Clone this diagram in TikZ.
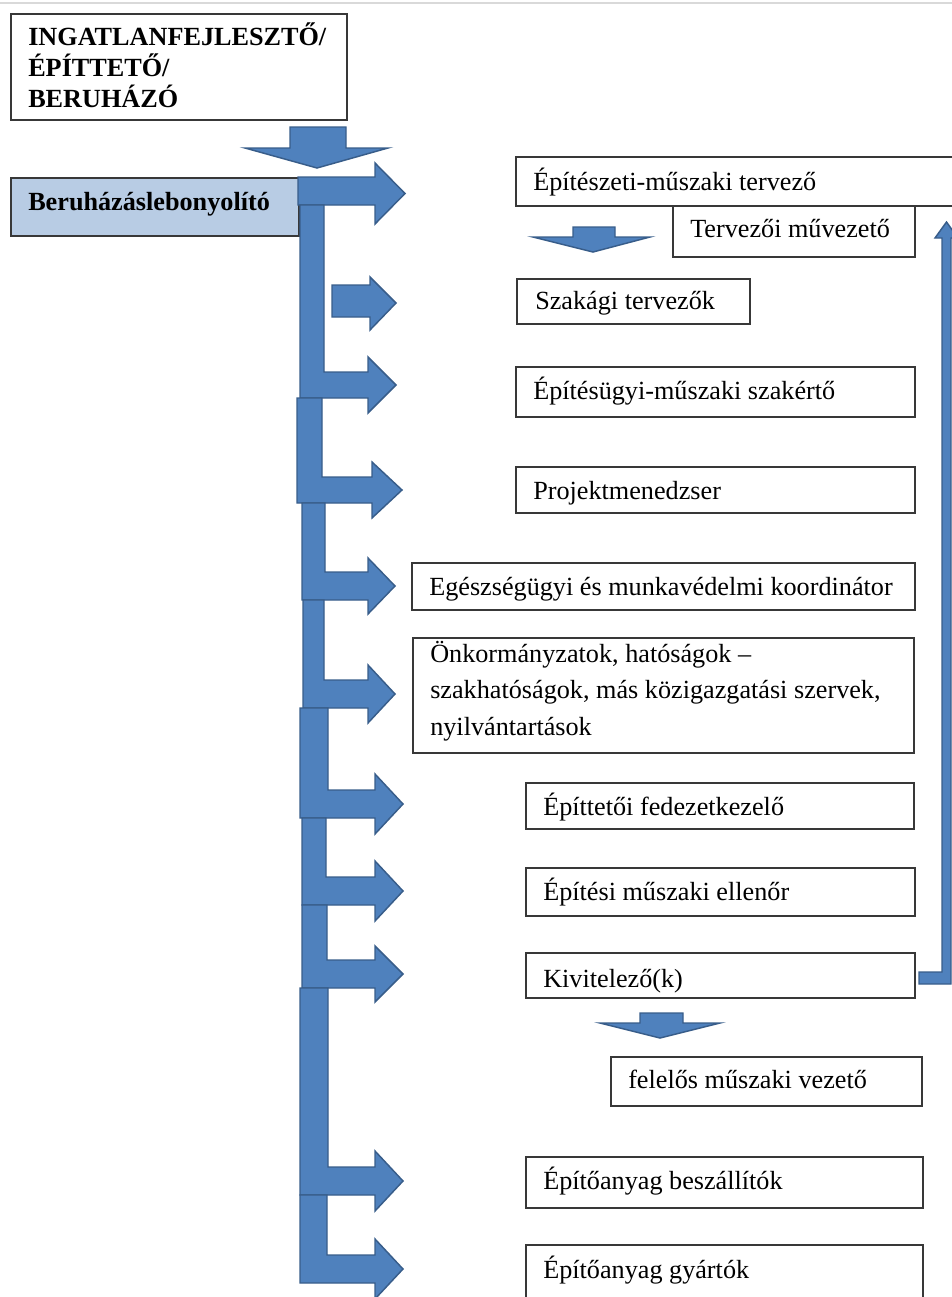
\documentclass[tikz,border=0pt]{standalone}
\usepackage{fontspec}
\setmainfont{Liberation Serif}
\usetikzlibrary{fit}
\definecolor{arrfill}{RGB}{79,129,189}
\definecolor{arrline}{RGB}{56,93,138}
\definecolor{lblue}{RGB}{184,204,228}
\newcommand\bentarr[8]{\draw[blockarr] (#1,#3) -- (#2,#3) -- (#2,{#4-#5}) -- (#6,{#4-#5}) -- (#6,{#4-#7}) -- (#8,#4) -- (#6,{#4+#7}) -- (#6,{#4+#5}) -- (#1,{#4+#5}) -- cycle;}
\tikzset{
  box/.style={draw=black!78, line width=0.9pt, fill=white, inner sep=0pt},
  lbl/.style={inner sep=0pt, anchor=base west, font=\fontsize{19.65pt}{26pt}\selectfont},
  blockarr/.style={fill=arrfill, draw=arrline, line width=1.1pt, line join=miter}
}
\begin{document}
\begin{tikzpicture}[x=0.75pt,y=-0.75pt]
\useasboundingbox (0,0) rectangle (952,1297);
\draw[gray!30, line width=0.8pt] (0,3) -- (952,3);

% boxes
\node[box, fit={(11,14) (347,120)}] (top) {};
\node[box, fill=lblue, fit={(11,178) (299,236)}] (ber) {};
\node[box, fit={(516,157) (962,206)}] (epit) {};
\node[box, fit={(673,206) (915,257)}] (terv) {};
\node[box, fit={(517,279) (750,324)}] (szak) {};
\node[box, fit={(516,367) (915,417)}] (epitugy) {};
\node[box, fit={(516,467) (915,513)}] (proj) {};
\node[box, fit={(412,563) (915,610)}] (egesz) {};
\node[box, fit={(413,638) (914,753)}] (onk) {};
\node[box, fit={(526,783) (914,829)}] (fedezet) {};
\node[box, fit={(526,868) (915,916)}] (ellenor) {};
\node[box, fit={(526,953) (915,998)}] (kiv) {};
\node[box, fit={(611,1057) (922,1106)}] (fel) {};
\node[box, fit={(526,1157) (923,1208)}] (besz) {};
\node[box, fit={(526,1245) (923,1320)}] (gyart) {};

% labels
\node[lbl, font=\fontsize{19.65pt}{23.25pt}\selectfont\bfseries] (topT) at (28,45)
  {\parbox[t]{330pt}{INGATLANFEJLESZTŐ/\\ÉPÍTTETŐ/\\BERUHÁZÓ}};
\node[lbl, font=\fontsize{19.65pt}{26pt}\selectfont\bfseries] (berT) at (28,210) {Beruházáslebonyolító};
\node[lbl] (epitT) at (533,190) {Építészeti-műszaki tervező};
\node[lbl] (tervT) at (690,237) {Tervezői művezető};
\node[lbl] (szakT) at (535,309) {Szakági tervezők};
\node[lbl] (epitugyT) at (533,399) {Építésügyi-műszaki szakértő};
\node[lbl] (projT) at (533,499) {Projektmenedzser};
\node[lbl] (egeszT) at (429,595) {Egészségügyi és munkavédelmi koordinátor};
\node[lbl, font=\fontsize{19.65pt}{27.4pt}\selectfont] (onkT) at (430,662)
  {\parbox[t]{480pt}{\raggedright Önkormányzatok, hatóságok –\\szakhatóságok, más közigazgatási szervek,\\nyilvántartások}};
\node[lbl] (fedezetT) at (543,815) {Építtetői fedezetkezelő};
\node[lbl] (ellenorT) at (543,900) {Építési műszaki ellenőr};
\node[lbl] (kivT) at (543,987) {Kivitelező(k)};
\node[lbl] (felT) at (628,1088) {felelős műszaki vezető};
\node[lbl] (beszT) at (543,1189) {Építőanyag beszállítók};
\node[lbl] (gyartT) at (543,1278) {Építőanyag gyártók};

% block arrows
\draw[blockarr] (290,127) -- (346,127) -- (346,148) -- (388,148) -- (317,168) -- (245,148) -- (290,148) -- cycle;
\draw[blockarr] (298,177) -- (375,177) -- (375,163) -- (405,193.5) -- (375,224) -- (375,205) -- (298,205) -- cycle;
\bentarr{300}{324}{205}{385}{13}{368}{28}{396}
\draw[blockarr] (332,285) -- (370,285) -- (370,277) -- (396,303) -- (370,330) -- (370,317) -- (332,317) -- cycle;
\bentarr{297}{322}{398}{490}{13}{372}{28}{402}
\bentarr{302}{325}{503}{586}{14}{368}{28}{395}
\bentarr{303}{324}{600}{694}{14}{368}{29}{395}
\bentarr{300}{328}{708}{804}{14}{375}{30}{403}
\bentarr{302}{326}{818}{891}{14}{375}{30}{403}
\bentarr{302}{327}{905}{974}{14}{375}{28}{403}
\bentarr{300}{328}{988}{1181}{14}{375}{30}{403}
\bentarr{300}{327}{1195}{1269}{14}{375}{30}{403}

% small down arrows
\draw[blockarr] (573,227) -- (615,227) -- (615,237) -- (650,237) -- (593,252) -- (533,237) -- (573,237) -- cycle;
\draw[blockarr] (640,1013) -- (683,1013) -- (683,1023) -- (720,1023) -- (660,1038) -- (600,1023) -- (640,1023) -- cycle;

% thin return arrow from Kivitelező up to the designers
\draw[blockarr] (919,972) -- (942,972) -- (942,238) -- (935,238) -- (946.5,222) -- (958,238) -- (951,238) -- (951,984) -- (919,984) -- cycle;
\end{tikzpicture}
\end{document}
